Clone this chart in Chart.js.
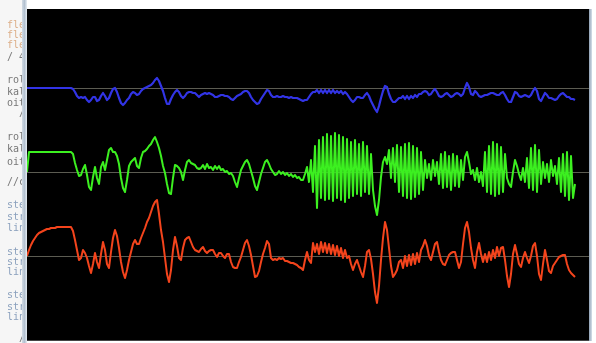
<!DOCTYPE html>
<html>
<head>
<meta charset="utf-8">
<script src="https://cdn.jsdelivr.net/npm/chart.js@4.4.0/dist/chart.umd.min.js"></script>
<style>
  html, body { margin: 0; padding: 0; background: #ffffff; }
  #wrap { position: relative; width: 596px; height: 343px; overflow: hidden; background: #ffffff; }
  #c { position: absolute; left: 0; top: 0; filter: blur(0.45px); }
  #gutter { position: absolute; left: 0; top: 0; width: 22px; height: 343px; overflow: hidden; background: #f6f6f6;
            font-family: "DejaVu Sans Mono", monospace; font-size: 10px; line-height: 10px; filter: blur(0.4px); }
  #gutter div { position: absolute; right: -3px; white-space: nowrap; }
  .o { color: #dcae88; } .g { color: #777; } .b { color: #8aa0bd; }
  #lstrip { position: absolute; left: 22px; top: 0; width: 5px; height: 343px;
            background: linear-gradient(to right, #d2dbe4, #b3c1d0, #e8eef4); }
  #rstrip { position: absolute; left: 589px; top: 9px; width: 3px; height: 332px;
            background: linear-gradient(to right, #8fa0b4, #d6e0ea); }
  #bline { position: absolute; left: 27px; top: 340px; width: 562px; height: 1px; background: #444; }
</style>
</head>
<body>
<div id="wrap">
  <canvas id="c" width="596" height="343"></canvas>
  <div id="gutter">
    <div class="o" style="top:20px">fle</div>
    <div class="o" style="top:30px">fle</div>
    <div class="o" style="top:40px">fle</div>
    <div class="g" style="top:52px">/ 4</div>
    <div class="g" style="top:75px">rol</div>
    <div class="g" style="top:87px">kal</div>
    <div class="g" style="top:98px">oit</div>
    <div class="g" style="top:108px">/</div>
    <div class="g" style="top:132px">rol</div>
    <div class="g" style="top:144px">kal</div>
    <div class="g" style="top:157px">oit</div>
    <div class="g" style="top:177px">//c</div>
    <div class="b" style="top:200px">ste</div>
    <div class="b" style="top:212px">str</div>
    <div class="b" style="top:223px">lin</div>
    <div class="b" style="top:247px">ste</div>
    <div class="b" style="top:257px">str</div>
    <div class="b" style="top:267px">lin</div>
    <div class="b" style="top:290px">ste</div>
    <div class="b" style="top:302px">str</div>
    <div class="b" style="top:312px">lin</div>
    <div class="g" style="top:333px">/</div>
  </div>
  <div id="lstrip"></div>
  <div id="rstrip"></div>
  <div id="bline"></div>
</div>
<script>
// Sample index (time). Each channel: amplitude relative to its own baseline.
const channelA = [ // blue
  0,0,0,0,0,0,0,0,0,0,
  0,0,0,0,0,0,0,0,0,0,
  0,0,0,-1,-4,-8,-10,-9,-10,-9,
  -12,-14,-12,-9,-9,-13,-12,-8,-5,-8,
  -12,-10,-5,-1,0,-4,-10,-15,-17,-15,
  -12,-10,-6,-4,-5,-7,-6,-3,-1,0,
  1,2,3,5,8,10,7,2,-3,-10,
  -16,-16,-11,-7,-4,-2,-4,-8,-10,-8,
  -5,-4,-4,-5,-5,-7,-9,-7,-6,-5,
  -6,-5,-6,-7,-9,-9,-8,-7,-7,-8,
  -8,-9,-11,-12,-10,-8,-7,-6,-4,-3,
  -3,-5,-9,-12,-14,-16,-15,-11,-8,-5,
  -2,-3,-7,-9,-9,-8,-9,-9,-8,-9,
  -9,-10,-9,-10,-10,-10,-11,-12,-13,-12,
  -12,-9,-6,-4,-4,-2,-5,-2,-5,-2,
  -5,-2,-5,-2,-5,-3,-5,-3,-6,-4,
  -6,-9,-12,-14,-12,-9,-9,-10,-10,-7,
  -5,-8,-13,-17,-21,-24,-18,-10,-3,2,
  1,-6,-11,-14,-14,-12,-10,-10,-8,-11,
  -8,-11,-8,-10,-7,-9,-6,-6,-4,-3,
  -4,-7,-6,-3,-1,-4,-8,-9,-8,-6,
  -5,-7,-9,-8,-6,-5,-6,-8,-6,0,
  5,1,-6,-7,-3,-5,-8,-9,-8,-7,
  -7,-6,-5,-5,-6,-7,-7,-5,-4,-7,
  -11,-14,-14,-9,-4,-5,-8,-9,-8,-7,
  -8,-9,-7,-3,0,-3,-11,-13,-9,-5,
  -7,-10,-10,-11,-12,-11,-8,-6,-5,-7,
  -9,-9,-11,-11,-12
];

const channelB = [ // green
  0,20,20,20,20,20,20,20,20,20,
  20,20,20,20,20,20,20,20,20,20,
  20,20,20,18,9,2,-4,-3,3,7,
  -3,-15,-18,-5,5,-6,-12,5,10,2,
  12,22,24,20,20,16,8,-6,-16,-20,
  -8,6,10,12,14,6,4,14,20,21,
  23,26,28,32,35,30,24,16,6,-1,
  -12,-21,-22,-6,7,6,4,0,-8,2,
  10,12,9,8,7,4,3,4,7,3,
  8,4,5,2,6,3,6,2,3,0,
  1,-2,-1,-4,-10,-15,-6,2,6,10,
  12,8,1,-6,-14,-18,-10,-2,4,10,
  12,8,3,0,-3,-2,1,-2,0,-3,
  -1,-4,-2,-5,-3,-6,-5,-8,-8,-2,
  5,-10,12,-20,26,-36,32,-26,35,-28,
  38,-27,36,-29,39,-26,37,-28,35,-30,
  33,-26,30,-24,32,-22,28,-24,30,-20,
  26,-22,18,-18,-34,-43,-28,-5,10,15,
  8,22,-6,24,-10,27,-20,25,-24,28,
  -26,29,-27,26,-25,24,-22,20,-18,12,
  -6,8,-8,12,-4,10,-12,18,-16,20,
  -15,16,-18,18,-14,16,-15,12,-8,15,
  20,10,-2,2,-8,4,-10,0,-14,20,
  -20,26,-22,30,-24,28,-22,25,-20,18,
  -6,-12,-15,0,12,6,-2,-8,4,-10,
  14,-16,24,-18,27,-20,22,-12,10,-6,
  8,-10,12,-4,6,-12,14,-20,18,-24,
  20,-28,16,-26,-12
];

const channelC = [ // red
  0,6,11,15,18,21,23,24,25,26,
  27,27,28,28,28,29,29,29,29,29,
  29,29,29,25,16,6,-4,-2,6,3,
  -2,-10,-17,-8,3,-6,-12,2,14,6,
  -8,-12,4,18,26,20,8,-6,-16,-22,
  -14,-4,4,12,16,12,12,18,23,28,
  34,38,44,50,54,56,42,26,14,-2,
  -18,-26,-14,6,19,10,-2,-4,8,16,
  18,19,14,9,6,5,4,7,9,5,
  3,5,6,6,2,-1,3,3,0,-2,
  2,2,-6,-11,-12,-12,-6,-1,6,13,
  16,10,1,-10,-21,-20,-15,-6,2,8,
  15,12,-2,-4,-3,-4,-2,-3,-2,-5,
  -5,-6,-7,-7,-8,-9,-11,-12,-14,-4,
  4,-4,-7,13,4,12,2,14,4,13,
  3,12,2,11,1,10,0,8,-2,6,
  -2,0,-8,-14,-8,-4,-10,-16,-21,-10,
  4,6,-3,-18,-36,-47,-30,-4,18,34,
  26,8,-10,-21,-18,-14,-6,-4,-12,0,
  -10,1,-9,2,-8,3,-6,6,10,16,
  10,0,-4,4,12,14,4,-4,-8,-9,
  -4,1,3,4,4,-4,-12,-6,12,28,
  34,24,8,-4,-12,4,13,2,-6,2,
  -6,4,-4,6,-2,9,0,8,9,-4,
  -20,-31,-18,2,11,2,-8,-11,-2,4,
  -2,-7,0,10,13,0,-18,-24,-8,6,
  -4,-15,-17,-10,-7,-4,-1,0,1,1,
  -8,-14,-17,-19,-21
];

// channel baselines (trace offsets) on the shared amplitude scale
const baselines = [0, -84, -168];
const yRange = { min: -252, max: 79 };
const xRange = { min: 0, max: 281 };

function toPoints(arr, offset) {
  return arr.map((v, i) => ({ x: i, y: v + offset }));
}

const bgPlugin = {
  id: 'scopeBg',
  beforeDraw(chart) {
    const { ctx, chartArea: a } = chart;
    ctx.save();
    ctx.fillStyle = '#000000';
    ctx.fillRect(a.left, a.top, a.right - a.left, a.bottom - a.top);
    ctx.restore();
  }
};

new Chart(document.getElementById('c'), {
  type: 'line',
  data: {
    datasets: [
      { data: toPoints(channelA, baselines[0]), borderColor: '#3234e6', borderWidth: 2.2 },
      { data: toPoints(channelB, baselines[1]), borderColor: '#3cf020', borderWidth: 2 },
      { data: toPoints(channelC, baselines[2]), borderColor: '#f4441c', borderWidth: 2 }
    ]
  },
  options: {
    responsive: false,
    animation: false,
    devicePixelRatio: 1,
    parsing: false,
    layout: { padding: { left: 27, right: 7, top: 9, bottom: 3 } },
    elements: { point: { radius: 0 }, line: { tension: 0, borderJoinStyle: 'round' } },
    plugins: { legend: { display: false }, tooltip: { enabled: false } },
    scales: {
      x: { type: 'linear', min: xRange.min, max: xRange.max, display: false },
      y: {
        type: 'linear', min: yRange.min, max: yRange.max,
        afterBuildTicks(scale) { scale.ticks = baselines.map(v => ({ value: v })); },
        ticks: { display: false },
        grid: { color: '#5c5c52', lineWidth: 1, drawTicks: false },
        border: { display: false }
      }
    }
  },
  plugins: [bgPlugin]
});
</script>
</body>
</html>
